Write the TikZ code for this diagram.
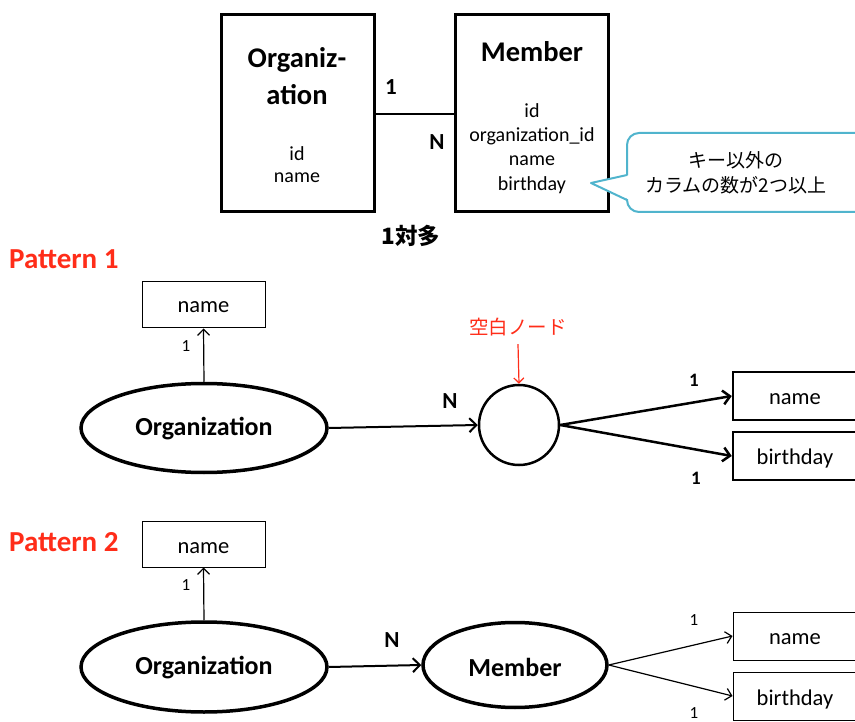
\documentclass[tikz,border=0pt]{standalone}
\usepackage{fontspec}
\setmainfont{Carlito}
\newfontfamily\jp{Noto Sans CJK JP}
\usetikzlibrary{arrows.meta,shapes.geometric}
\definecolor{hired}{RGB}{255,45,25}
\definecolor{callblue}{RGB}{80,180,205}
\begin{document}
\begin{tikzpicture}[x=1pt,y=-1pt,
  entity/.style={draw,line width=3pt,minimum width=153pt,minimum height=197pt,inner sep=0pt},
  attrthin/.style={draw,line width=1pt,minimum width=123pt,minimum height=46pt,inner sep=0pt},
  attrthick/.style={draw,line width=2.5pt,minimum width=150pt,minimum height=48pt,inner sep=0pt},
  ent/.style={draw,ellipse,line width=3.5pt,inner sep=0pt},
  blank/.style={draw,circle,line width=2.5pt,minimum size=80pt,inner sep=0pt},
  txt/.style={inner sep=0pt,font=\fontsize{20}{24}\selectfont},
  attrtxt/.style={inner sep=0pt,font=\fontsize{22.5}{26}\selectfont},
  big/.style={inner sep=0pt,font=\bfseries\fontsize{26}{30}\selectfont},
  title/.style={inner sep=0pt,font=\bfseries\fontsize{28.5}{32}\selectfont},
  card/.style={inner sep=0pt,font=\bfseries\fontsize{23}{26}\selectfont},
  cardsmall/.style={inner sep=0pt,font=\bfseries\fontsize{19}{22}\selectfont},
  cardthin/.style={inner sep=0pt,font=\fontsize{17}{20}\selectfont},
  heading/.style={inner sep=0pt,anchor=west,text=hired,font=\bfseries\fontsize{29}{32}\selectfont},
  boldarrow/.style={line width=2.5pt,-{Straight Barb[length=7pt,width=14pt]}},
  midarrow/.style={line width=2pt,-{Straight Barb[length=7pt,width=14pt]}},
  thinarrow/.style={line width=1.2pt,-{Straight Barb[length=6pt,width=12pt]}}]
\useasboundingbox (0,0) rectangle (855,722);
\clip (0,0) rectangle (855,722);

% ---- top: table view ----
\node[entity] (torg) at (297.5,113.5) {};
\node[entity] (tmem) at (532,113.5) {};
\draw[line width=2.5pt] (torg.east |- 0,114) -- (tmem.west |- 0,114);
\node[title] (torgA) at (297,60) {Organiz-};
\node[title] (torgB) at (297,95) {ation};
\node[txt] (torgid) at (297,154) {id};
\node[txt] (torgnm) at (297,178) {name};
\node[title] (tmemT) at (532,52) {Member};
\node[txt] (tm1) at (532,111) {id};
\node[txt] (tm2) at (532,136) {organization\_id};
\node[txt] (tm3) at (532,161) {name};
\node[txt] (tm4) at (532,185) {birthday};
\node[card] (tone) at (391,87) {1};
\node[card] (tn) at (437,142) {N};
\node[inner sep=0pt,font=\jp\bfseries\fontsize{22.5}{26}\selectfont] (ratio) at (411,236) {1対多};

% callout
\node[draw=callblue,line width=2pt,fill=white,rounded corners=12pt,
      minimum width=250pt,minimum height=79pt] (callout) at (752,172.5) {};
\coordinate (tip) at (591,183);
\coordinate (cpA) at (627,175);
\coordinate (cpB) at (627,200);
\fill[white] ([xshift=3pt]cpA) -- (tip) -- ([xshift=3pt]cpB) -- cycle;
\draw[callblue,line width=2pt,line join=round] (cpA) -- (tip) -- (cpB);
\node[inner sep=0pt,font=\jp\fontsize{19}{22}\selectfont] (cl1) at (736,160) {キー以外の};
\node[inner sep=0pt,font=\jp\fontsize{19}{22}\selectfont] (cl2) at (736,185) {カラムの数が2つ以上};

% ---- Pattern 1 ----
\node[heading] (p1) at (9,259) {Pattern 1};
\node[attrthin] (p1name) at (203.5,305) {};
\node[attrtxt] at (203.5,307) {name};
\node[ent,minimum width=246pt,minimum height=89pt] (p1org) at (204,428) {};
\node[big] at (204,429) {Organization};
\draw[thinarrow] (p1org.north) -- (p1name.south);
\node[cardthin] at (186,346) {1};
\node[blank] (p1blank) at (519,425) {};
\draw[midarrow] (p1org.east) -- (p1blank.west);
\node[card] at (450,401) {N};
\node[inner sep=0pt,text=hired,font=\jp\fontsize{19.5}{22}\selectfont] (blanklbl) at (518,327) {空白ノード};
\draw[hired,line width=1.2pt,-{Straight Barb[length=5pt,width=10pt]}] (blanklbl.south) ++(0,8) -- (p1blank.north);
\node[attrthick] (p1mn) at (808,396) {};
\node[attrthick] (p1mb) at (808,456) {};
\node[attrtxt] at (795,399) {name};
\node[attrtxt] at (795,459) {birthday};
\draw[boldarrow] (p1blank.east) -- (p1mn.west);
\draw[boldarrow] (p1blank.east) -- (p1mb.west);
\node[cardsmall] at (694,380) {1};
\node[cardsmall] at (696,478) {1};

% ---- Pattern 2 ----
\node[heading] (p2) at (9,542) {Pattern 2};
\node[attrthin] (p2name) at (203.5,544) {};
\node[attrtxt] at (203.5,548) {name};
\node[ent,minimum width=246pt,minimum height=90pt] (p2org) at (204,667) {};
\node[big] at (204,668) {Organization};
\draw[thinarrow] (p2org.north) -- (p2name.south);
\node[cardthin] at (186,585) {1};
\node[ent,minimum width=184pt,minimum height=85pt] (p2mem) at (515,665) {};
\node[big] at (515,667) {Member};
\draw[midarrow] (p2org.east) -- (p2mem.west);
\node[card] at (392,640) {N};
\node[attrthin,minimum width=150pt,minimum height=48pt] (p2mn) at (808,636) {};
\node[attrthin,minimum width=150pt,minimum height=48pt] (p2mb) at (808,696) {};
\node[attrtxt] at (795,639) {name};
\node[attrtxt] at (795,699) {birthday};
\draw[thinarrow] (p2mem.east) -- (p2mn.west);
\draw[thinarrow] (p2mem.east) -- (p2mb.west);
\node[cardthin] at (694,620) {1};
\node[cardthin] at (694,713) {1};
\end{tikzpicture}
\end{document}
